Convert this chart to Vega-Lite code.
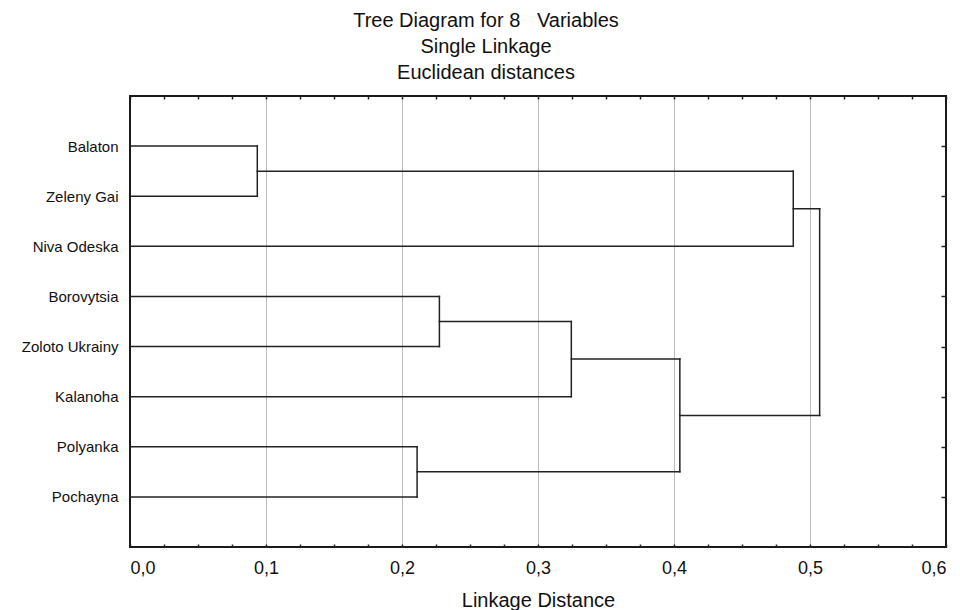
{
  "$schema": "https://vega.github.io/schema/vega-lite/v6.json",
  "width": 816,
  "height": 451,
  "autosize": "none",
  "padding": {"left": 130, "top": 96, "right": 14, "bottom": 63},
  "background": "white",
  "title": {
    "text": ["Tree Diagram for 8\u00a0\u00a0 Variables", "Single Linkage", "Euclidean distances"],
    "font": "Liberation Sans",
    "fontSize": 20,
    "fontWeight": "normal",
    "color": "#111",
    "lineHeight": 26,
    "anchor": "middle",
    "frame": "group",
    "baseline": "bottom",
    "dx": -52,
    "dy": 22,
    "offset": 14
  },
  "config": {
    "view": {"stroke": "#1a1a1a", "strokeWidth": 2},
    "axis": {"labelFont": "Liberation Sans", "titleFont": "Liberation Sans", "labelColor": "#111", "titleColor": "#111", "tickColor": "#222", "domain": false}
  },
  "data": {
    "values": [
      {"x": 0, "x2": 0.0936, "y": 1, "y2": 1},
      {"x": 0, "x2": 0.0936, "y": 2, "y2": 2},
      {"x": 0.0936, "x2": 0.0936, "y": 1, "y2": 2},
      {"x": 0.0936, "x2": 0.4877, "y": 1.5, "y2": 1.5},
      {"x": 0, "x2": 0.4877, "y": 3, "y2": 3},
      {"x": 0.4877, "x2": 0.4877, "y": 1.5, "y2": 3},
      {"x": 0.4877, "x2": 0.5071, "y": 2.25, "y2": 2.25},
      {"x": 0, "x2": 0.2275, "y": 4, "y2": 4},
      {"x": 0, "x2": 0.2275, "y": 5, "y2": 5},
      {"x": 0.2275, "x2": 0.2275, "y": 4, "y2": 5},
      {"x": 0.2275, "x2": 0.3245, "y": 4.5, "y2": 4.5},
      {"x": 0, "x2": 0.3245, "y": 6, "y2": 6},
      {"x": 0.3245, "x2": 0.3245, "y": 4.5, "y2": 6},
      {"x": 0.3245, "x2": 0.4043, "y": 5.25, "y2": 5.25},
      {"x": 0, "x2": 0.2111, "y": 7, "y2": 7},
      {"x": 0, "x2": 0.2111, "y": 8, "y2": 8},
      {"x": 0.2111, "x2": 0.2111, "y": 7, "y2": 8},
      {"x": 0.2111, "x2": 0.4043, "y": 7.5, "y2": 7.5},
      {"x": 0.4043, "x2": 0.4043, "y": 5.25, "y2": 7.5},
      {"x": 0.4043, "x2": 0.5071, "y": 6.375, "y2": 6.375},
      {"x": 0.5071, "x2": 0.5071, "y": 2.25, "y2": 6.375}
    ]
  },
  "layer": [
    {
      "mark": {"type": "rule", "opacity": 0},
      "encoding": {
        "x": {"field": "x", "type": "quantitative", "scale": {"domain": [0, 0.6], "nice": false},
              "axis": {"orient": "bottom", "values": [0.1, 0.2, 0.3, 0.4, 0.5], "grid": true, "gridColor": "#777", "gridDash": [1, 1], "gridWidth": 1, "ticks": false, "labels": false, "domain": false, "title": null}},
        "y": {"field": "y", "type": "quantitative", "scale": {"domain": [0, 9], "nice": false, "reverse": true},
              "axis": {"orient": "right", "values": [1, 2, 3, 4, 5, 6, 7, 8], "ticks": true, "tickSize": -5, "tickWidth": 1.5, "labels": false, "grid": false, "domain": false, "title": null}}
      }
    },
    {
      "mark": {"type": "rule", "opacity": 0},
      "encoding": {
        "x": {"field": "x", "type": "quantitative", "scale": {"domain": [0, 0.6], "nice": false},
              "axis": {"orient": "bottom", "values": [0, 0.025, 0.05, 0.075, 0.1, 0.125, 0.15, 0.175, 0.2, 0.225, 0.25, 0.275, 0.3, 0.325, 0.35, 0.375, 0.4, 0.425, 0.45, 0.475, 0.5, 0.525, 0.55, 0.575, 0.6], "ticks": true, "tickSize": -3, "tickWidth": 1.5, "labels": false, "grid": false, "domain": false, "title": null}}
      }
    },
    {
      "mark": {"type": "rule", "opacity": 0},
      "encoding": {
        "x": {"field": "x", "type": "quantitative", "scale": {"domain": [0, 0.6], "nice": false},
              "axis": {"orient": "top", "values": [0, 0.025, 0.05, 0.075, 0.1, 0.125, 0.15, 0.175, 0.2, 0.225, 0.25, 0.275, 0.3, 0.325, 0.35, 0.375, 0.4, 0.425, 0.45, 0.475, 0.5, 0.525, 0.55, 0.575, 0.6], "ticks": true, "tickSize": -3, "tickWidth": 1.5, "labels": false, "grid": false, "domain": false, "title": null}}
      }
    },
    {
      "mark": {"type": "rule", "color": "#222", "strokeWidth": 1.5, "strokeCap": "square"},
      "encoding": {
        "x": {"field": "x", "type": "quantitative", "scale": {"domain": [0, 0.6], "nice": false},
              "axis": {"orient": "bottom", "values": [0, 0.1, 0.2, 0.3, 0.4, 0.5, 0.6], "ticks": false, "grid": false, "domain": false,
                       "labelExpr": "replace(format(datum.value, '.1f'), '.', ',')", "labelFontSize": 18, "labelPadding": 12,
                       "title": "Linkage Distance", "titleFontSize": 20, "titleFontWeight": "normal", "titleBaseline": "alphabetic", "titleY": 59}},
        "x2": {"field": "x2"},
        "y": {"field": "y", "type": "quantitative", "scale": {"domain": [0, 9], "nice": false, "reverse": true},
              "axis": {"orient": "left", "values": [1, 2, 3, 4, 5, 6, 7, 8], "ticks": false, "grid": false, "domain": false, "title": null,
                       "labelExpr": "['', 'Balaton', 'Zeleny Gai', 'Niva Odeska', 'Borovytsia', 'Zoloto Ukrainy', 'Kalanoha', 'Polyanka', 'Pochayna'][datum.value]",
                       "labelFontSize": 15, "labelPadding": 12}},
        "y2": {"field": "y2"}
      }
    }
  ],
  "resolve": {"axis": {"x": "independent", "y": "independent"}}
}
